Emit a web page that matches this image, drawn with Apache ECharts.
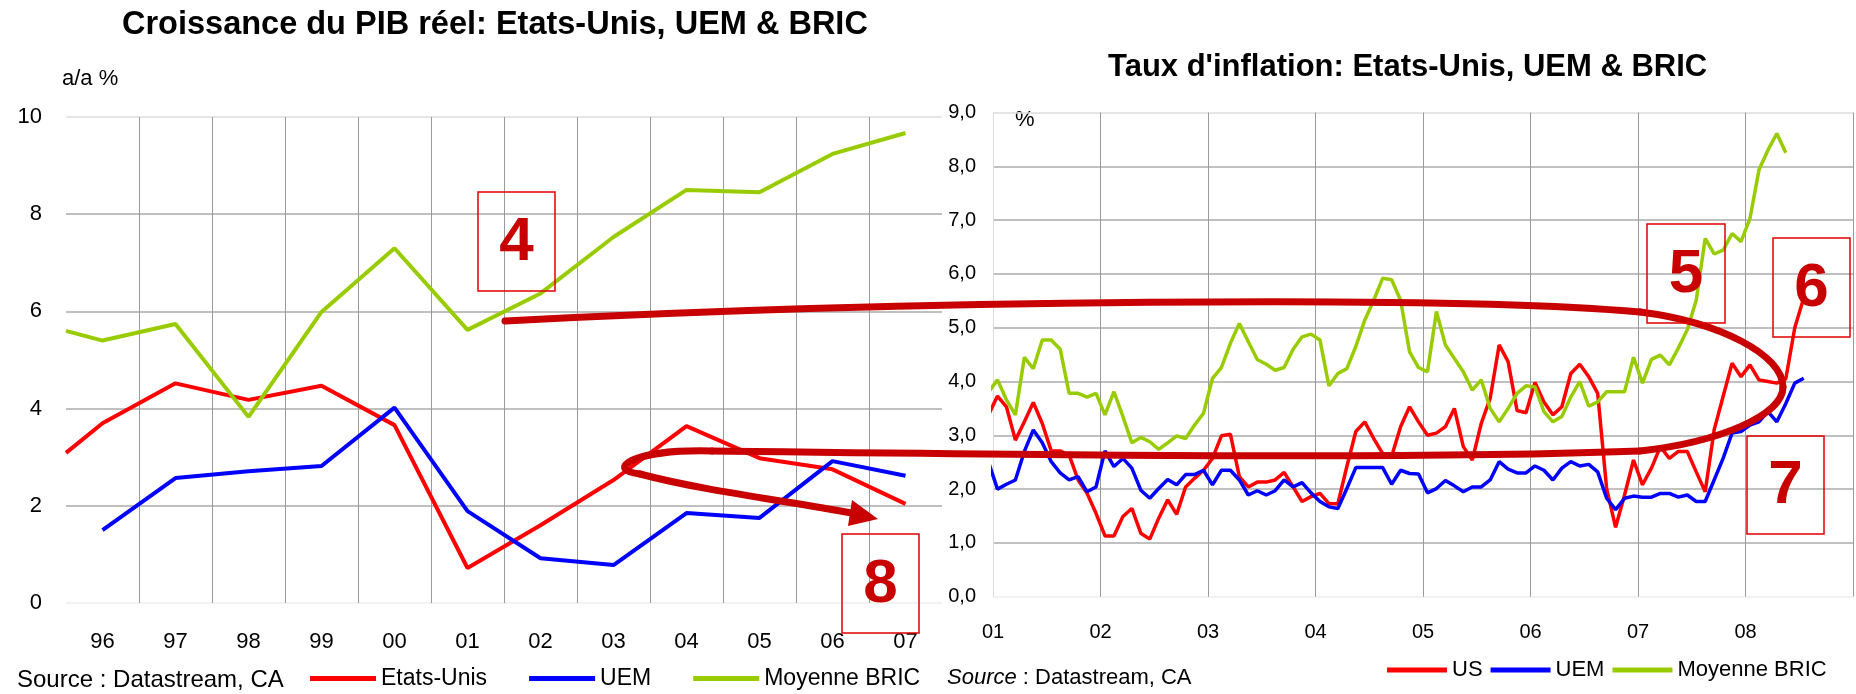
<!DOCTYPE html>
<html lang="fr">
  <head>
    <meta charset="UTF-8" />
    <title>PIB et inflation : Etats-Unis, UEM & BRIC</title>
    <script src="https://cdnjs.cloudflare.com/ajax/libs/echarts/6.0.0/echarts.min.js"></script>
    <style>
      html, body { margin: 0; padding: 0; background: #fff; }
      #chart { width: 1856px; height: 694px; }
    </style>
  </head>
  <body>
    <div id="chart"></div>
    <script>
      // --- Graphique de gauche : croissance du PIB réel (a/a %) ---
      // indice 0 = bord gauche (fin 95), ensuite une valeur par année
      const pibAnnees = ["96", "97", "98", "99", "00", "01", "02", "03", "04", "05", "06", "07"];
      const pibEtatsUnis = [3.09, 3.70, 4.52, 4.18, 4.47, 3.66, 0.72, 1.60, 2.53, 3.64, 2.98, 2.75, 2.04];
      const pibUEM = [null, 1.50, 2.57, 2.71, 2.82, 4.02, 1.89, 0.92, 0.78, 1.85, 1.75, 2.92, 2.62];
      const pibBRIC = [5.60, 5.40, 5.74, 3.83, 5.99, 7.30, 5.62, 6.37, 7.53, 8.50, 8.45, 9.24, 9.67];

      // --- Graphique de droite : taux d'inflation mensuel (%) depuis janvier 2001 ---
      const inflAnnees = ["01", "02", "03", "04", "05", "06", "07", "08"];
      const inflUS = [
        3.38, 3.73, 3.53, 2.91, 3.25, 3.61, 3.22, 2.71, 2.71, 2.63,
        2.17, 1.92, 1.55, 1.13, 1.13, 1.49, 1.64, 1.18, 1.07, 1.46,
        1.80, 1.53, 2.04, 2.20, 2.35, 2.57, 2.99, 3.02, 2.23, 2.04,
        2.13, 2.13, 2.17, 2.31, 2.04, 1.77, 1.86, 1.92, 1.73, 1.73,
        2.42, 3.07, 3.25, 2.94, 2.66, 2.61, 3.16, 3.53, 3.25, 3.00,
        3.04, 3.16, 3.50, 2.79, 2.54, 3.22, 3.69, 4.68, 4.37, 3.46,
        3.42, 3.98, 3.62, 3.38, 3.53, 4.15, 4.32, 4.09, 3.78, 2.01,
        1.29, 1.89, 2.54, 2.08, 2.39, 2.79, 2.57, 2.70, 2.70, 2.32,
        1.95, 3.10, 3.72, 4.34, 4.09, 4.31, 4.03, 4.00, 3.97, 4.05,
        5.00, 5.55
      ];
      const inflUEM = [
        2.50, 2.00, 2.09, 2.17, 2.70, 3.10, 2.86, 2.51, 2.30, 2.17,
        2.23, 1.95, 2.04, 2.71, 2.42, 2.57, 2.39, 1.98, 1.83, 2.01,
        2.18, 2.08, 2.27, 2.27, 2.35, 2.08, 2.35, 2.35, 2.17, 1.89,
        1.97, 1.89, 1.97, 2.17, 2.04, 2.12, 1.93, 1.77, 1.67, 1.64,
        2.01, 2.40, 2.40, 2.40, 2.40, 2.09, 2.35, 2.29, 2.28, 1.93,
        2.01, 2.16, 2.06, 1.95, 2.04, 2.04, 2.17, 2.51, 2.37, 2.30,
        2.30, 2.43, 2.35, 2.17, 2.39, 2.51, 2.43, 2.46, 2.32, 1.83,
        1.62, 1.83, 1.87, 1.85, 1.85, 1.92, 1.92, 1.85, 1.89, 1.77,
        1.77, 2.17, 2.57, 3.04, 3.07, 3.19, 3.25, 3.44, 3.25, 3.59,
        3.97, 4.06
      ];
      const inflBRIC = [
        3.80, 4.03, 3.66, 3.38, 4.45, 4.24, 4.77, 4.77, 4.60, 3.78,
        3.78, 3.71, 3.78, 3.38, 3.81, 3.35, 2.86, 2.96, 2.88, 2.74,
        2.86, 2.99, 2.94, 3.19, 3.41, 4.06, 4.26, 4.71, 5.08, 4.74,
        4.41, 4.32, 4.21, 4.26, 4.60, 4.83, 4.88, 4.77, 3.92, 4.15,
        4.24, 4.65, 5.14, 5.51, 5.92, 5.89, 5.51, 4.55, 4.26, 4.18,
        5.30, 4.68, 4.43, 4.18, 3.84, 4.03, 3.50, 3.25, 3.50, 3.78,
        3.92, 3.90, 3.44, 3.25, 3.35, 3.71, 4.00, 3.54, 3.62, 3.81,
        3.81, 3.81, 4.45, 3.97, 4.41, 4.49, 4.31, 4.62, 4.96, 5.51,
        6.66, 6.37, 6.44, 6.75, 6.60, 7.03, 7.93, 8.30, 8.61, 8.25
      ];

      const ROUGE = "#ff0000";
      const BLEU = "#0000ff";
      const VERT = "#99cc00";
      const ANNOT = "#c80000";
      const POLICE = "'Liberation Sans', Arial, sans-serif";

      // position sur l'axe caché : bord gauche puis une année par catégorie
      function pibPoints(vals) {
        return vals.map((v, i) => [i === 0 ? -0.5 : i - 1, v]);
      }
      // un point par mois, placé en milieu de mois
      function moisPoints(vals) {
        return vals.map((v, k) => [k - 0.5, v]);
      }

      function boite(x, y, w, h, chiffre) {
        return [
          {
            type: "rect",
            z: 100,
            shape: { x: x, y: y, width: w, height: h },
            style: { fill: null, stroke: "#e00000", lineWidth: 1.5 }
          },
          {
            type: "text",
            z: 101,
            x: x + w / 2,
            y: y + h / 2 + 1,
            style: {
              text: chiffre,
              fill: ANNOT,
              font: "bold 62px " + POLICE,
              align: "center",
              verticalAlign: "middle"
            }
          }
        ];
      }

      function courbe(x1, y1, cpx1, cpy1, cpx2, cpy2, x2, y2) {
        return {
          type: "bezierCurve",
          z: 99,
          shape: { x1, y1, cpx1, cpy1, cpx2, cpy2, x2, y2 },
          style: { stroke: ANNOT, lineWidth: 7, fill: null, lineCap: "round" }
        };
      }

      const chart = echarts.init(document.getElementById("chart"));

      const option = {
        animation: false,
        backgroundColor: "#fff",
        textStyle: { fontFamily: POLICE },
        title: [
          {
            text: "Croissance du PIB réel: Etats-Unis, UEM & BRIC",
            left: 122,
            top: 9,
            padding: 0,
            textStyle: { fontFamily: POLICE, fontWeight: "bold", fontSize: 32.5, color: "#000" }
          },
          {
            text: "Taux d'inflation: Etats-Unis, UEM & BRIC",
            left: 1108,
            top: 52,
            padding: 0,
            textStyle: { fontFamily: POLICE, fontWeight: "bold", fontSize: 31, color: "#000" }
          }
        ],
        legend: [
          {
            data: ["Etats-Unis", "UEM", "Moyenne BRIC"],
            left: 310,
            top: 667,
            padding: 0,
            icon: "rect",
            itemWidth: 66,
            itemHeight: 5,
            itemGap: 42,
            selectedMode: false,
            textStyle: { fontSize: 23, color: "#000", fontFamily: POLICE }
          },
          {
            data: ["US", "UEM", "Moyenne BRIC"],
            left: 1387,
            top: 659,
            padding: 0,
            icon: "rect",
            itemWidth: 60,
            itemHeight: 5,
            itemGap: 8,
            selectedMode: false,
            textStyle: { fontSize: 22, color: "#000", fontFamily: POLICE }
          }
        ],
        grid: [
          { left: 66, top: 117, width: 876, height: 486 },
          { left: 993, top: 112.5, width: 864, height: 484.2 }
        ],
        xAxis: [
          {
            type: "category",
            gridIndex: 0,
            data: pibAnnees,
            boundaryGap: true,
            axisLine: { show: false },
            axisTick: { show: false },
            axisLabel: { fontSize: 22, color: "#000", margin: 28, fontFamily: POLICE },
            splitLine: {
              show: true,
              showMinLine: false,
              showMaxLine: false,
              lineStyle: { color: "#9a9a9a", width: 1 }
            }
          },
          {
            type: "value",
            gridIndex: 0,
            min: -0.5,
            max: 11.5,
            show: false
          },
          {
            type: "value",
            gridIndex: 1,
            min: 0,
            max: 96,
            interval: 12,
            axisLine: { show: false },
            axisTick: { show: false },
            axisLabel: {
              fontSize: 20,
              color: "#000",
              margin: 26,
              fontFamily: POLICE,
              formatter: (v) => (v % 12 === 0 && v / 12 < inflAnnees.length ? inflAnnees[v / 12] : "")
            },
            splitLine: {
              show: true,
              showMinLine: false,
              lineStyle: { color: "#9a9a9a", width: 1 }
            }
          }
        ],
        yAxis: [
          {
            type: "value",
            gridIndex: 0,
            min: 0,
            max: 10,
            interval: 2,
            axisLine: { show: false },
            axisTick: { show: false },
            axisLabel: { fontSize: 22, color: "#000", margin: 24, fontFamily: POLICE },
            splitLine: {
              lineStyle: {
                color: ["#eeeeee", "#ababab", "#ababab", "#ababab", "#ababab", "#dddddd"],
                width: 1.5
              }
            }
          },
          {
            type: "value",
            gridIndex: 1,
            min: 0,
            max: 9,
            interval: 1,
            axisLine: { show: true, lineStyle: { color: "#dcdcdc", width: 1 } },
            axisTick: { show: false },
            axisLabel: {
              fontSize: 20,
              color: "#000",
              margin: 17,
              fontFamily: POLICE,
              formatter: (v) => v.toFixed(1).replace(".", ",")
            },
            splitLine: {
              lineStyle: {
                color: ["#eeeeee", "#ababab", "#ababab", "#ababab", "#ababab",
                        "#ababab", "#ababab", "#ababab", "#ababab", "#dddddd"],
                width: 1.5
              }
            }
          }
        ],
        series: [
          {
            name: "Etats-Unis", type: "line", xAxisIndex: 1, yAxisIndex: 0,
            data: pibPoints(pibEtatsUnis), symbol: "none", color: ROUGE,
            lineStyle: { width: 4, color: ROUGE }
          },
          {
            name: "UEM", type: "line", xAxisIndex: 1, yAxisIndex: 0,
            data: pibPoints(pibUEM), symbol: "none", color: BLEU,
            lineStyle: { width: 4, color: BLEU }
          },
          {
            name: "Moyenne BRIC", type: "line", xAxisIndex: 1, yAxisIndex: 0,
            data: pibPoints(pibBRIC), symbol: "none", color: VERT,
            lineStyle: { width: 4, color: VERT }
          },
          {
            name: "US", type: "line", xAxisIndex: 2, yAxisIndex: 1,
            data: moisPoints(inflUS), symbol: "none", color: ROUGE,
            lineStyle: { width: 3.5, color: ROUGE }
          },
          {
            name: "UEM", type: "line", xAxisIndex: 2, yAxisIndex: 1,
            data: moisPoints(inflUEM), symbol: "none", color: BLEU,
            lineStyle: { width: 3.5, color: BLEU }
          },
          {
            name: "Moyenne BRIC", type: "line", xAxisIndex: 2, yAxisIndex: 1,
            data: moisPoints(inflBRIC), symbol: "none", color: VERT,
            lineStyle: { width: 3.5, color: VERT }
          }
        ],
        graphic: [
          // libellés d'unités
          {
            type: "text", x: 62, y: 79,
            style: { text: "a/a %", font: "22px " + POLICE, fill: "#000", verticalAlign: "middle" }
          },
          {
            type: "text", x: 1015, y: 120,
            style: { text: "%", font: "22px " + POLICE, fill: "#000", verticalAlign: "middle" }
          },
          // sources
          {
            type: "text", x: 17, y: 680,
            style: { text: "Source : Datastream, CA", font: "24px " + POLICE, fill: "#000", verticalAlign: "middle" }
          },
          {
            type: "text", x: 947, y: 678,
            style: {
              text: "{i|Source} : Datastream, CA",
              font: "22px " + POLICE,
              fill: "#000",
              verticalAlign: "middle",
              rich: { i: { fontStyle: "italic", fontSize: 22, fontFamily: POLICE } }
            }
          },
          // grande boucle et flèche
          courbe(505, 321, 900, 300, 1450, 295, 1640, 312),
          courbe(1640, 312, 1720, 322, 1783, 355, 1783, 387),
          courbe(1783, 387, 1783, 415, 1720, 442, 1640, 451),
          courbe(1640, 451, 1400, 460, 1000, 454, 712, 451),
          courbe(712, 451, 630, 449, 605, 470, 640, 474),
          courbe(640, 474, 700, 490, 780, 500, 852, 513),
          {
            type: "polygon",
            z: 100,
            shape: { points: [[878, 519], [852, 500], [848, 526]] },
            style: { fill: ANNOT }
          },
          // encadrés numérotés
          ...boite(478, 192, 77, 99, "4"),
          ...boite(842, 534, 77, 99, "8"),
          ...boite(1647, 224, 78, 99, "5"),
          ...boite(1773, 238, 77, 99, "6"),
          ...boite(1747, 436, 77, 98, "7")
        ]
      };

      chart.setOption(option);
    </script>
  </body>
</html>
